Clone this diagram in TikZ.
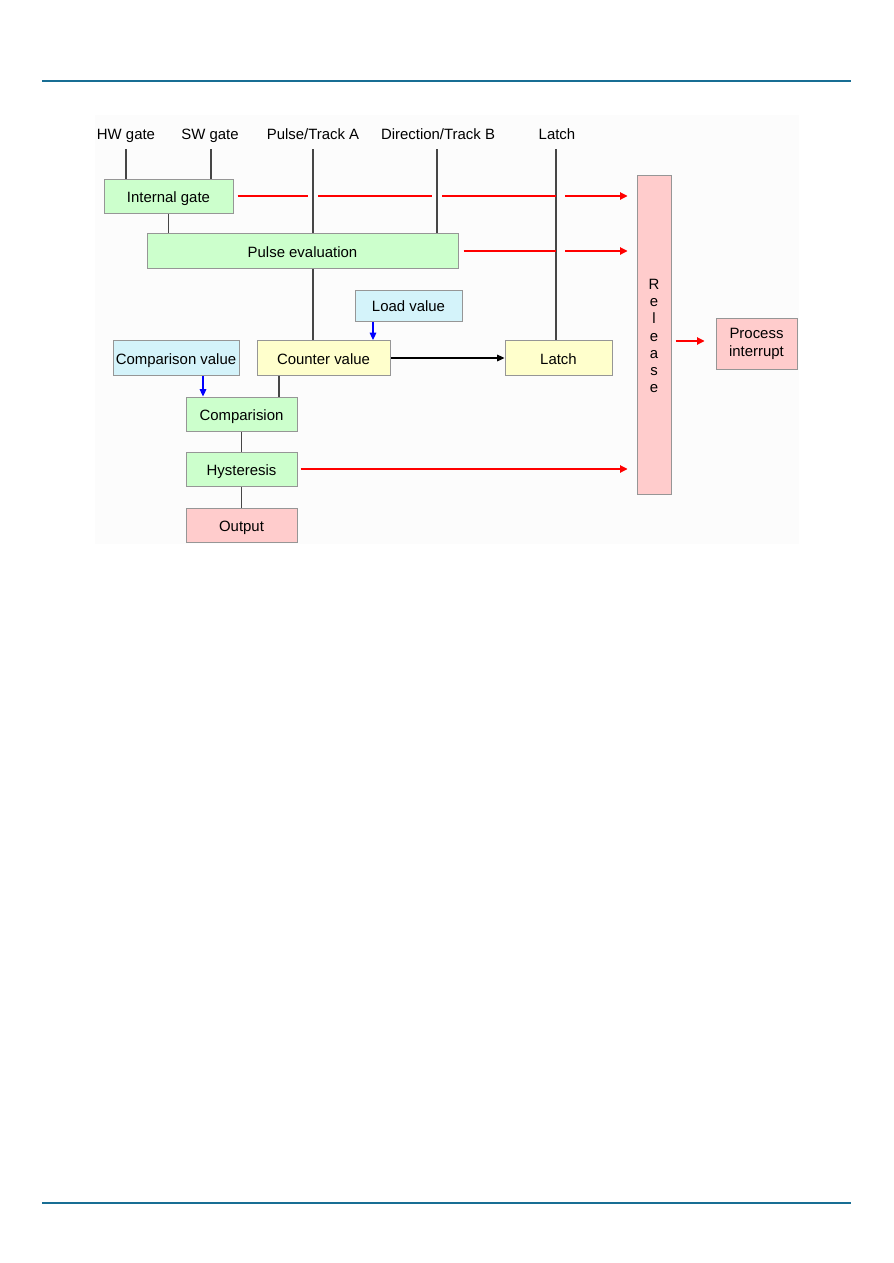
\documentclass[tikz,border=0pt]{standalone}
\usepackage{fontspec}
\setmainfont{Liberation Sans}
\usetikzlibrary{calc,positioning,backgrounds,arrows.meta}
\pgfdeclarelayer{edgelayer}
\pgfdeclarelayer{nodelayer}
\pgfsetlayers{background,edgelayer,nodelayer,main}
\definecolor{pagerule}{RGB}{24,110,148}
\definecolor{greenbox}{RGB}{204,255,204}
\definecolor{yellowbox}{RGB}{255,255,204}
\definecolor{bluebox}{RGB}{212,243,250}
\definecolor{pinkbox}{RGB}{255,204,204}
\definecolor{boxline}{RGB}{150,150,150}
\definecolor{wire}{RGB}{70,70,70}
\definecolor{canvas}{RGB}{252,252,252}
\tikzstyle{none}=[inner sep=0mm]
\tikzstyle{oneline}=[text height=11pt,text depth=2pt]
\tikzstyle{label}=[none,oneline,font=\fontsize{11.2}{13}\selectfont]
\tikzstyle{box}=[draw=boxline,line width=0.75pt,inner sep=0pt,align=center,font=\fontsize{11.2}{13.5}\selectfont]
\tikzstyle{gbox}=[box,oneline,fill=greenbox]
\tikzstyle{ybox}=[box,oneline,fill=yellowbox]
\tikzstyle{bbox}=[box,oneline,fill=bluebox]
\tikzstyle{pbox}=[box,fill=pinkbox]
\tikzstyle{wire}=[draw=wire,line width=0.9pt]
\tikzstyle{redline}=[draw=red,line width=0.8pt]
\tikzstyle{redarrow}=[redline,-{Triangle[length=5.5pt,width=5.5pt]}]
\tikzstyle{bluearrow}=[draw=blue,line width=0.8pt,-{Triangle[length=5.5pt,width=5pt]}]
\tikzstyle{blackarrow}=[draw=black,line width=0.8pt,-{Triangle[length=5.5pt,width=5pt]}]

\begin{document}
\begin{tikzpicture}[x=0.75pt,y=-0.75pt]
	\useasboundingbox (0,0) rectangle (893,1263);
	\begin{pgfonlayer}{background}
		\fill[canvas] (95,115) rectangle (799,544);
		\draw[pagerule,line width=1.5pt] (42,81) -- (851,81);
		\draw[pagerule,line width=1.5pt] (42,1203) -- (851,1203);
	\end{pgfonlayer}
	\begin{pgfonlayer}{nodelayer}
		\node [style=label] (hw) at (126, 133) {HW gate};
		\node [style=label] (sw) at (210, 133) {SW gate};
		\node [style=label] (pta) at (313, 133) {Pulse/Track A};
		\node [style=label] (dtb) at (438, 133) {Direction/Track B};
		\node [style=label] (latin) at (557, 133) {Latch};
		\coordinate (hwt) at (126, 149);
		\coordinate (swt) at (211, 149);
		\coordinate (ptat) at (313, 149);
		\coordinate (dtbt) at (437, 149);
		\coordinate (latt) at (556, 149);
		\node [style=gbox, minimum width=129*0.75pt, minimum height=34*0.75pt] (ig) at (168.5, 196) {Internal gate};
		\node [style=gbox, minimum width=311*0.75pt, minimum height=35*0.75pt] (pe) at (302.5, 251) {Pulse evaluation};
		\node [style=bbox, minimum width=107*0.75pt, minimum height=31*0.75pt] (lv) at (408.5, 305.5) {Load value};
		\node [style=bbox, minimum width=126*0.75pt, minimum height=35*0.75pt] (cmpv) at (176, 358) {Comparison value};
		\node [style=ybox, minimum width=133*0.75pt, minimum height=35*0.75pt] (cv) at (323.5, 358) {Counter value};
		\node [style=ybox, minimum width=107*0.75pt, minimum height=35*0.75pt] (lat) at (558.5, 358) {Latch};
		\node [style=gbox, minimum width=111*0.75pt, minimum height=34*0.75pt] (cmp) at (241.5, 414) {Comparision};
		\node [style=gbox, minimum width=111*0.75pt, minimum height=34*0.75pt] (hys) at (241.5, 469) {Hysteresis};
		\node [style=pbox, oneline, minimum width=111*0.75pt, minimum height=34*0.75pt] (outp) at (241.5, 525) {Output};
		\node [style=pbox, minimum width=34*0.75pt, minimum height=319*0.75pt] (rel) at (654, 334.5) {};
		\node [style=none, align=center, font=\fontsize{11.2}{12.9}\selectfont] (reltext) at (654, 336) {R\\e\\l\\e\\a\\s\\e};
		\node [style=pbox, minimum width=81*0.75pt, minimum height=51*0.75pt] (pint) at (756.5, 343.5) {Process\\interrupt};
		\coordinate (cvtap) at (279, 376);
		\coordinate (lvtap) at (373, 321);
		\coordinate (cmpvtap) at (203, 376);
	\end{pgfonlayer}
	\begin{pgfonlayer}{edgelayer}
		% inputs
		\draw[wire] (hwt) -- (hwt |- ig.north);
		\draw[wire] (swt) -- (swt |- ig.north);
		\draw[wire] (ptat) -- (ptat |- cv.north);
		\draw[wire] (dtbt) -- (dtbt |- pe.north);
		\draw[wire] (latt) -- (latt |- lat.north);
		% chain
		\draw[wire] (ig.south) -- (ig.south |- pe.north);
		\draw[wire] (cvtap) -- (cvtap |- cmp.north);
		\draw[wire] (cmp.south) -- (hys.north);
		\draw[wire] (hys.south) -- (outp.north);
		\draw[bluearrow] (lvtap) -- (lvtap |- cv.north);
		\draw[bluearrow] (cmpvtap) -- (cmpvtap |- cmp.north);
		\draw[blackarrow] (cv.east) -- (lat.west);
		% release
		\draw[redline] ($(ig.east)+(4,0)$) -- ($(ptat |- ig.east)+(-5,0)$);
		\draw[redline] ($(ptat |- ig.east)+(5,0)$) -- ($(dtbt |- ig.east)+(-5,0)$);
		\draw[redline] ($(dtbt |- ig.east)+(5,0)$) -- (latt |- ig.east);
		\draw[redarrow] ($(latt |- ig.east)+(9,0)$) -- ($(rel.west |- ig.east)+(-9,0)$);
		\draw[redline] ($(pe.east)+(5,0)$) -- (latt |- pe.east);
		\draw[redarrow] ($(latt |- pe.east)+(9,0)$) -- ($(rel.west |- pe.east)+(-9,0)$);
		\draw[redarrow] ($(hys.east)+(3,0)$) -- ($(rel.west |- hys.east)+(-9,0)$);
		\draw[redarrow] ($(rel.east)+(4,6.5)$) -- ($(pint.west)+(-11,-2.5)$);
	\end{pgfonlayer}
\end{tikzpicture}
\end{document}
